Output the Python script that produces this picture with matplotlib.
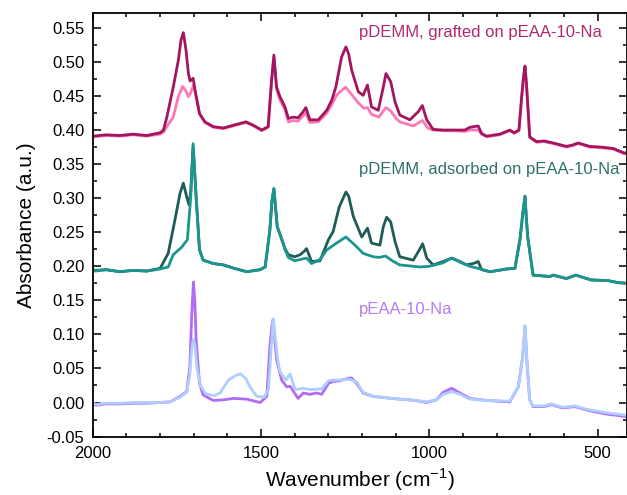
import matplotlib
matplotlib.use("Agg")
import matplotlib.pyplot as plt
from matplotlib.ticker import MultipleLocator

plt.rcParams['font.family'] = ['Liberation Sans', 'DejaVu Sans']

# pDEMM grafted on pEAA-10-Na (top pair)
grafted_dark_wn = [2000, 1960, 1920, 1880, 1840, 1800, 1790, 1780, 1761, 1746, 1738, 1731, 1723, 1716,
                   1711, 1702, 1693, 1683, 1667, 1642, 1612, 1583, 1545, 1523, 1498, 1479, 1469, 1462,
                   1454, 1444, 1429, 1419, 1404, 1390, 1375, 1367, 1355, 1330, 1305, 1290,
                   1278, 1261, 1248, 1240, 1231, 1211, 1197, 1184, 1172, 1152, 1137, 1129, 1115, 1102,
                   1088, 1058, 1033, 1021, 1008, 989, 960, 929, 895, 880, 855, 845, 830, 791, 761, 748,
                   734, 726, 720, 716, 712, 708, 702, 682, 660, 632, 593, 575, 558, 524, 490, 454, 420, 413]
grafted_dark = [0.391, 0.393, 0.392, 0.394, 0.392, 0.396, 0.400, 0.419, 0.463, 0.502, 0.532, 0.543,
                0.517, 0.483, 0.472, 0.476, 0.449, 0.424, 0.412, 0.405, 0.403, 0.407, 0.412, 0.407,
                0.400, 0.405, 0.473, 0.510, 0.463, 0.449, 0.434, 0.417, 0.419, 0.418,
                0.427, 0.433, 0.415, 0.415, 0.429, 0.444, 0.463, 0.507, 0.522, 0.512, 0.488, 0.456,
                0.451, 0.466, 0.434, 0.429, 0.463, 0.483, 0.471, 0.441, 0.422, 0.415, 0.427, 0.436,
                0.415, 0.401, 0.400, 0.400, 0.400, 0.404, 0.406, 0.395, 0.391, 0.394, 0.400, 0.396,
                0.400, 0.449, 0.480, 0.494, 0.470, 0.439, 0.390, 0.383, 0.384, 0.381, 0.376, 0.378,
                0.381, 0.376, 0.375, 0.373, 0.366, 0.367]

grafted_light_wn = [2000, 1960, 1920, 1880, 1840, 1800, 1790, 1780, 1761, 1746, 1733, 1724, 1716, 1709,
                    1701, 1690, 1683, 1667, 1642, 1612, 1583, 1545, 1523, 1498, 1479, 1469, 1462,
                    1454, 1444, 1429, 1419, 1404, 1390, 1375, 1367, 1355, 1330, 1305, 1290,
                    1276, 1261, 1249, 1231, 1211, 1195, 1184, 1172, 1150, 1137, 1129, 1115, 1100, 1088,
                    1048, 1021, 1005, 989, 960, 929, 895, 880, 855, 845, 830, 791, 761, 748, 734, 726,
                    720, 716, 712, 708, 702, 682, 660, 632, 593, 575, 558, 524, 490, 454, 420, 413]
grafted_light = [0.390, 0.392, 0.391, 0.393, 0.391, 0.394, 0.397, 0.405, 0.419, 0.449, 0.464, 0.458,
                 0.449, 0.455, 0.466, 0.444, 0.424, 0.411, 0.404, 0.402, 0.406, 0.411, 0.406,
                 0.399, 0.404, 0.470, 0.507, 0.460, 0.444, 0.430, 0.412, 0.414, 0.413,
                 0.421, 0.425, 0.411, 0.412, 0.425, 0.437, 0.451, 0.458, 0.463, 0.452, 0.440, 0.432,
                 0.433, 0.423, 0.419, 0.428, 0.433, 0.428, 0.418, 0.412, 0.406, 0.414, 0.403, 0.400,
                 0.399, 0.399, 0.398, 0.400, 0.400, 0.394, 0.390, 0.393, 0.399, 0.395, 0.399, 0.447,
                 0.478, 0.492, 0.468, 0.437, 0.389, 0.382, 0.383, 0.380, 0.375, 0.377, 0.380, 0.375,
                 0.374, 0.372, 0.365, 0.366]

# pDEMM adsorbed on pEAA-10-Na (middle pair)
adsorbed_dark_wn = [2000, 1993, 1960, 1920, 1880, 1840, 1800, 1776, 1756, 1741, 1731, 1721, 1714,
                    1709, 1702, 1693, 1683, 1672, 1642, 1612, 1580, 1543, 1503, 1488, 1474, 1468,
                    1462, 1452, 1441, 1429, 1419, 1400, 1384, 1372, 1365, 1350, 1325, 1300, 1286,
                    1268, 1248, 1240, 1226, 1201, 1184, 1172, 1147, 1137, 1127, 1115, 1102, 1088, 1048,
                    1030, 1020, 1008, 989, 959, 934, 909, 890, 870, 855, 845, 820, 771, 746, 731, 722,
                    716, 712, 708, 692, 642, 632, 593, 565, 520, 470, 440, 413]
adsorbed_dark = [0.195, 0.194, 0.195, 0.192, 0.194, 0.193, 0.197, 0.219, 0.268, 0.307, 0.322, 0.302,
                 0.290, 0.310, 0.375, 0.302, 0.224, 0.209, 0.204, 0.202, 0.197, 0.192, 0.195,
                 0.199, 0.253, 0.295, 0.314, 0.258, 0.243, 0.226, 0.217, 0.214, 0.217,
                 0.222, 0.226, 0.207, 0.208, 0.239, 0.251, 0.287, 0.309, 0.303, 0.273, 0.243, 0.256,
                 0.234, 0.231, 0.258, 0.272, 0.265, 0.236, 0.214, 0.209, 0.224, 0.233, 0.212, 0.202,
                 0.207, 0.212, 0.207, 0.202, 0.204, 0.207, 0.195, 0.192, 0.196, 0.197, 0.239, 0.280,
                 0.303, 0.270, 0.243, 0.187, 0.185, 0.187, 0.182, 0.187, 0.180, 0.179, 0.176, 0.175]

adsorbed_light_wn = [2000, 1993, 1960, 1920, 1880, 1840, 1800, 1776, 1761, 1736, 1719, 1709, 1702,
                     1693, 1683, 1672, 1642, 1612, 1580, 1543, 1503, 1488, 1474, 1468, 1462, 1452,
                     1441, 1429, 1419, 1400, 1384, 1365, 1350, 1325, 1305, 1276, 1248, 1221, 1197, 1167,
                     1150, 1130, 1110, 1088, 1028, 1000, 960, 934, 909, 880, 848, 820, 771, 746, 731, 722,
                     716, 712, 708, 692, 642, 632, 593, 565, 520, 470, 440, 413]
adsorbed_light = [0.195, 0.193, 0.195, 0.192, 0.194, 0.193, 0.196, 0.199, 0.217, 0.228, 0.239, 0.302,
                  0.380, 0.302, 0.224, 0.209, 0.204, 0.202, 0.197, 0.192, 0.195, 0.199, 0.253,
                  0.295, 0.314, 0.258, 0.243, 0.224, 0.213, 0.208, 0.210, 0.212, 0.204, 0.210,
                  0.224, 0.234, 0.243, 0.231, 0.219, 0.214, 0.213, 0.215, 0.208, 0.202, 0.199, 0.200,
                  0.205, 0.212, 0.206, 0.200, 0.196, 0.192, 0.196, 0.197, 0.239, 0.280, 0.303, 0.270,
                  0.243, 0.187, 0.185, 0.187, 0.182, 0.187, 0.180, 0.179, 0.176, 0.175]

# pEAA-10-Na (bottom pair)
peaa_dark_wn = [2000, 1990, 1960, 1920, 1880, 1840, 1800, 1770, 1741, 1721, 1712, 1706, 1701, 1697,
                1693, 1683, 1672, 1642, 1610, 1583, 1543, 1503, 1483, 1474, 1468, 1464, 1459, 1454,
                1439, 1424, 1414, 1390, 1375, 1355, 1335, 1320, 1300, 1286, 1266, 1236, 1231, 1216,
                1197, 1167, 1130, 1088, 1040, 1008, 979, 959, 934, 909, 880, 830, 761, 736, 723, 716,
                710, 702, 692, 660, 637, 605, 568, 533, 474, 440, 413]
peaa_dark = [-0.002, -0.004, -0.002, -0.002, -0.001, -0.001, 0.000, 0.001, 0.009, 0.016, 0.050, 0.130,
             0.177, 0.150, 0.092, 0.028, 0.011, 0.003, 0.004, 0.006, 0.005, 0.000, 0.009, 0.082,
             0.112, 0.122, 0.090, 0.063, 0.033, 0.023, 0.024, 0.006, 0.014, 0.012, 0.014, 0.012,
             0.028, 0.031, 0.032, 0.036, 0.036, 0.028, 0.014, 0.009, 0.007, 0.005, 0.003, 0.000,
             0.004, 0.015, 0.021, 0.014, 0.006, 0.003, 0.001, 0.023, 0.067, 0.112, 0.058, 0.004,
             -0.006, -0.006, -0.003, -0.008, -0.006, -0.011, -0.017, -0.019, -0.021]

peaa_light_wn = [2000, 1990, 1960, 1920, 1880, 1840, 1800, 1770, 1741, 1721, 1712, 1706, 1701, 1697,
                 1690, 1680, 1665, 1640, 1622, 1597, 1575, 1561, 1545, 1533, 1513, 1490, 1478, 1470,
                 1464, 1459, 1450, 1444, 1426, 1414, 1399, 1375, 1355, 1320, 1300, 1286, 1266, 1236,
                 1216, 1197, 1167, 1130, 1088, 1040, 1008, 979, 959, 934, 909, 880, 830, 761, 736, 723,
                 716, 710, 702, 692, 660, 637, 605, 568, 533, 474, 440, 413]
peaa_light = [-0.001, -0.003, -0.001, -0.001, 0.000, 0.000, 0.000, 0.001, 0.008, 0.015, 0.040, 0.080,
              0.093, 0.085, 0.050, 0.025, 0.013, 0.010, 0.014, 0.033, 0.040, 0.042, 0.035, 0.023,
              0.009, 0.008, 0.020, 0.080, 0.123, 0.100, 0.060, 0.045, 0.033, 0.042, 0.019, 0.021,
              0.019, 0.020, 0.032, 0.033, 0.033, 0.034, 0.030, 0.015, 0.009, 0.007, 0.005, 0.003,
              0.001, 0.004, 0.012, 0.016, 0.012, 0.005, 0.003, 0.002, 0.023, 0.067, 0.113, 0.058,
              0.004, -0.005, -0.005, -0.002, -0.007, -0.005, -0.010, -0.015, -0.017, -0.019]

labels = ['pDEMM, grafted on pEAA-10-Na', 'pDEMM, adsorbed on pEAA-10-Na', 'pEAA-10-Na']
label_y = [0.543, 0.342, 0.137]
label_colors = ['#B0296E', '#2F716C', '#B67CF2']

fig = plt.figure(figsize=(6.27, 4.95), dpi=100)
ax = fig.add_axes([0.148, 0.118, 0.852, 0.856])

lw = 2.0
style = dict(lw=lw, solid_joinstyle='round', solid_capstyle='round')
ax.plot(grafted_light_wn, grafted_light, color='#FF78B6', **style)
ax.plot(grafted_dark_wn, grafted_dark, color='#A3155F', **style)
ax.plot(adsorbed_dark_wn, adsorbed_dark, color='#1F5C57', **style)
ax.plot(adsorbed_light_wn, adsorbed_light, color='#1C958F', **style)
ax.plot(peaa_dark_wn, peaa_dark, color='#B26CF4', **style)
ax.plot(peaa_light_wn, peaa_light, color='#ADCEFF', **style)

for t, yy, c in zip(labels, label_y, label_colors):
    ax.text(1209, yy, t, color=c, fontsize=12, va='center', ha='left')

ax.set_xlim(2000, 413)
ax.set_ylim(-0.05, 0.572)
ax.xaxis.set_major_locator(MultipleLocator(500))
ax.xaxis.set_minor_locator(MultipleLocator(100))
ax.yaxis.set_major_locator(MultipleLocator(0.05))
ax.yaxis.set_minor_locator(MultipleLocator(0.025))
ax.yaxis.set_major_formatter(plt.FormatStrFormatter('%.2f'))
ax.tick_params(which='both', direction='in', top=True, right=True, labelsize=12, width=1.1)
ax.tick_params(which='major', length=6)
ax.tick_params(which='minor', length=3)
ax.tick_params(axis='y', pad=6)
ax.tick_params(axis='x', pad=7)
for s in ax.spines.values():
    s.set_linewidth(1.3)

ax.set_xlabel('Wavenumber (cm$^{\\mathregular{-1}}$)', fontsize=15, labelpad=4)
ax.set_ylabel('Absorbance (a.u.)', fontsize=15, labelpad=8)

fig.savefig('out.png', dpi=100)
